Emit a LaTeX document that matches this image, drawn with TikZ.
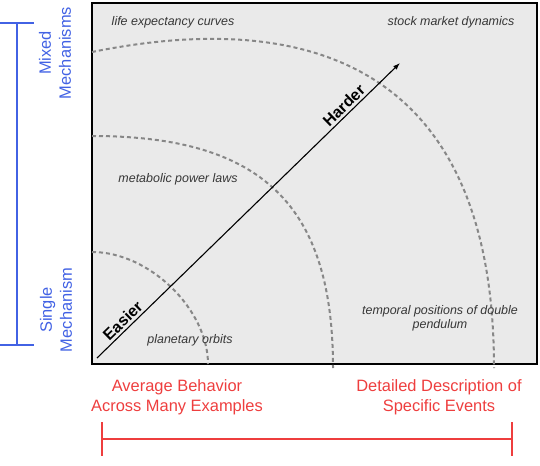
\documentclass[tikz,border=0pt]{standalone}
\usepackage{fontspec}
\setmainfont{Liberation Sans}
\usepackage{xcolor}
\usepackage{tikz}
\usetikzlibrary{arrows.meta}
\usetikzlibrary{positioning, fit}

\definecolor{axisblue}{RGB}{66,98,228}
\definecolor{axisred}{RGB}{238,62,62}
\definecolor{panelgray}{RGB}{234,234,234}
\definecolor{ringgray}{RGB}{135,135,135}
\definecolor{labelgray}{RGB}{55,55,55}

\begin{document}
\begin{tikzpicture}[
        x=1bp, y=-1bp,
        % 
        panel/.style={
            draw=black,
            fill=panelgray,
            line width=1.4bp,
        },
        % 
        example label/.style={
            font=\fontsize{12.5}{14}\selectfont\itshape,
            text=labelgray,
            inner sep=0pt,
            align=center,
        },
        trend label/.style={
            font=\fontsize{16}{18}\selectfont\bfseries,
            inner sep=1bp,
            outer sep=2bp,
        },
        blue label/.style={
            font=\fontsize{16.5}{20}\selectfont,
            text=axisblue,
            inner sep=0pt,
            align=center,
            rotate=90,
        },
        red label/.style={
            font=\fontsize{16.5}{20}\selectfont,
            text=axisred,
            inner sep=0pt,
            align=center,
        },
        ring/.style={draw=ringgray, line width=2bp, dash pattern=on 4bp off 3bp},
        trend arrow/.style={-{Latex[length=7bp,width=5bp]}, line width=1.1bp},
        blue bracket/.style={draw=axisblue, line width=1.3bp},
        red bracket/.style={draw=axisred, line width=1.3bp}
        ]
        
        \useasboundingbox (0,0) rectangle (540,466);
        
        % Panel
        
        \draw[panel] (92,3) rectangle (537,364);
        
        % Rings
        
        \draw[ring] (92,252) .. controls (150,252) and (208,310) .. (208,364);
        \draw[ring] (92,136) .. controls (262,136) and (333,205) .. (333,368);
        \draw[ring] (92,52) .. controls (250,20) and (494,20) .. (494,368);
        
        % Examples
        
        \node[example label] (life) at (173,22) {life expectancy curves};
        \node[example label] (stock) at (451,22) {stock market dynamics};
        \node[example label] (metabolic) at (178,179) {metabolic power laws};
        \node[example label] (planetary) at (190,340) {planetary orbits};
        \node[example label] (pendulum) at (440,318) {temporal positions of double\\pendulum};
        
        % Trend
        
        \coordinate (easy) at (97,358);
        \coordinate (hard) at (400,63);
        \draw[trend arrow] (easy) -- (hard)
            node[trend label, pos=0.105, sloped, above] (easier) {Easier}
            node[trend label, pos=0.835, sloped, above] (harder) {Harder};
        
        % Vertical axis
        
        \node[blue label] (mixed) at (55,53) {Mixed\\Mechanisms};
        \node[blue label] (single) at (56,310) {Single\\Mechanism};
        \coordinate (blue top) at (17,23);
        \coordinate (blue bottom) at (17,345);
        \draw[blue bracket] (blue top) -- (blue bottom);
        \draw[blue bracket] ([xshift=-17bp]blue top) -- ([xshift=17bp]blue top);
        \draw[blue bracket] ([xshift=-17bp]blue bottom) -- ([xshift=17bp]blue bottom);
        
        % Horizontal axis
        
        \node[red label] (average) at (177,397) {Average Behavior\\Across Many Examples};
        \node[red label] (detailed) at (439,397) {Detailed Description of\\Specific Events};
        \coordinate (red left) at (102,439);
        \coordinate (red right) at (512,439);
        \draw[red bracket] (red left) -- (red right);
        \draw[red bracket] ([yshift=17bp]red left) -- ([yshift=-17bp]red left);
        \draw[red bracket] ([yshift=17bp]red right) -- ([yshift=-17bp]red right);
        % 
    \end{tikzpicture}
\end{document}
